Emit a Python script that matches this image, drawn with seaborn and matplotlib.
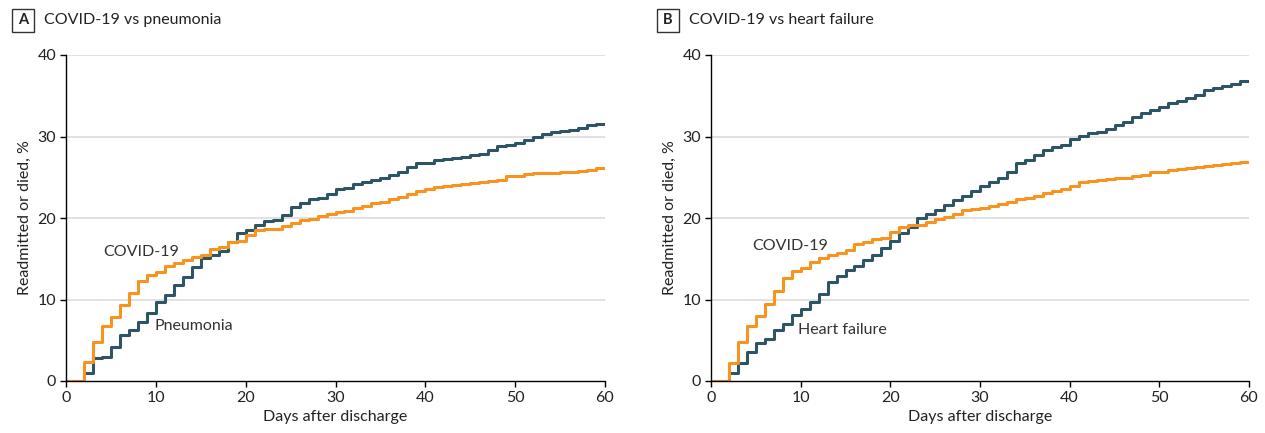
import matplotlib.pyplot as plt
import seaborn as sns
import pandas as pd
import numpy as np
from matplotlib.patches import Rectangle

days = list(range(61))

# Panel A: COVID-19 vs pneumonia (% readmitted or died)
covid_a = [0, 0, 2.3, 4.8, 6.7, 7.9, 9.3, 10.8, 12.3, 13.0,
           13.4, 14.1, 14.5, 14.9, 15.2, 15.5, 16.2, 16.5, 17.0, 17.2,
           17.9, 18.5, 18.6, 18.7, 19.0, 19.4, 19.7, 19.9, 20.3, 20.5,
           20.7, 20.9, 21.2, 21.5, 21.8, 22.0, 22.3, 22.6, 23.0, 23.3,
           23.6, 23.8, 23.95, 24.1, 24.2, 24.3, 24.4, 24.5, 24.7, 25.1,
           25.1, 25.35, 25.5, 25.5, 25.55, 25.7, 25.7, 25.8, 25.9, 26.1, 26.1]
pneumonia = [0, 0, 1.0, 2.8, 3.0, 4.2, 5.6, 6.3, 7.3, 8.4,
             9.7, 10.6, 11.8, 12.8, 14.0, 15.1, 15.5, 16.0, 17.0, 18.1,
             18.5, 19.2, 19.6, 19.8, 20.4, 21.3, 21.9, 22.3, 22.5, 22.9,
             23.5, 23.7, 24.2, 24.4, 24.7, 24.9, 25.3, 25.7, 26.3, 26.7,
             26.8, 27.1, 27.2, 27.4, 27.5, 27.7, 27.9, 28.4, 28.8, 28.9,
             29.2, 29.6, 29.9, 30.3, 30.6, 30.7, 30.8, 31.0, 31.4, 31.5, 31.5]

# Panel B: COVID-19 vs heart failure
covid_b = [0, 0, 2.25, 4.8, 6.8, 8.0, 9.45, 11.1, 12.6, 13.5,
           13.9, 14.55, 15.05, 15.45, 15.75, 16.1, 16.8, 17.0, 17.4, 17.6,
           18.3, 18.85, 19.1, 19.2, 19.55, 19.9, 20.1, 20.45, 21.0, 21.05,
           21.2, 21.5, 21.7, 21.95, 22.3, 22.5, 22.7, 23.1, 23.3, 23.6,
           23.9, 24.4, 24.6, 24.65, 24.75, 24.85, 24.95, 25.1, 25.3, 25.6,
           25.7, 25.9, 26.0, 26.1, 26.2, 26.4, 26.5, 26.6, 26.7, 26.9, 26.9]
heart_failure = [0, 0, 0.95, 2.2, 3.6, 4.7, 5.2, 6.3, 7.0, 8.1,
                 8.8, 9.7, 10.7, 12.2, 12.9, 13.6, 14.15, 14.8, 15.45, 16.3,
                 17.2, 18.2, 18.9, 19.95, 20.45, 21.0, 21.6, 22.2, 22.7, 23.35,
                 23.95, 24.45, 24.95, 25.7, 26.7, 27.1, 27.7, 28.4, 28.75, 29.0,
                 29.65, 30.05, 30.4, 30.6, 30.9, 31.4, 31.8, 32.35, 32.9, 33.3,
                 33.6, 34.15, 34.4, 34.7, 35.1, 35.7, 35.9, 36.2, 36.5, 36.85, 36.85]

ORANGE = '#F7931E'
BLUE = '#2D5565'

sns.set_theme(style="white")
plt.rcParams['font.family'] = ['Lato', 'DejaVu Sans']

fig = plt.figure(figsize=(12.65, 4.33), dpi=100)
ax_a = fig.add_axes([66/1265, 1 - 381/433, 539/1265, 326/433])
ax_b = fig.add_axes([711/1265, 1 - 381/433, 538/1265, 326/433])

panels = [
    (ax_a, 'A', 'COVID-19 vs pneumonia', covid_a, pneumonia, 'Pneumonia',
     (4.2, 15.8), (9.8, 6.7)),
    (ax_b, 'B', 'COVID-19 vs heart failure', covid_b, heart_failure, 'Heart failure',
     (4.6, 16.6), (9.7, 6.2)),
]

for ax, letter, title, covid, other, other_name, covid_pos, other_pos in panels:
    df = pd.DataFrame({
        'day': days * 2,
        'pct': other + covid,
        'group': [other_name] * len(days) + ['COVID-19'] * len(days),
    })
    for yv in [10, 20, 30, 40]:
        ax.axhline(yv, color='#DCDCDC', lw=1.2, zorder=0)
    sns.lineplot(data=df, x='day', y='pct', hue='group',
                 palette={other_name: BLUE, 'COVID-19': ORANGE},
                 drawstyle='steps-post', lw=2.2, legend=False, ax=ax,
                 estimator=None)
    ax.set_xlim(0, 60)
    ax.set_ylim(0, 40)
    ax.set_xticks(range(0, 61, 10))
    ax.set_yticks(range(0, 41, 10))
    for s in ['top', 'right']:
        ax.spines[s].set_visible(False)
    for s in ['left', 'bottom']:
        ax.spines[s].set_color('black')
        ax.spines[s].set_linewidth(1.0)
    ax.tick_params(axis='both', direction='out', length=4, width=1,
                   color='black', labelsize=11.5, labelcolor='#222222',
                   left=True, bottom=True, pad=3)
    ax.set_xlabel('Days after discharge', fontsize=11.5, color='#222222')
    ax.set_ylabel('Readmitted or died, %', fontsize=11.5, color='#222222')
    ax.text(covid_pos[0], covid_pos[1], 'COVID-19', fontsize=11.5,
            color='#333333', va='center', ha='left')
    ax.text(other_pos[0], other_pos[1], other_name, fontsize=11.5,
            color='#333333', va='center', ha='left')
    # panel letter box and title
    x0 = ax.get_position().x0 - 54/1265
    fig.text(x0 + 11/1265, 1 - 20/433, letter, fontsize=10.5, weight='bold',
             ha='center', va='center', color='#222222')
    fig.patches.append(Rectangle((x0, 1 - 32/433), 22/1265, 23/433,
                                 transform=fig.transFigure, fill=False,
                                 edgecolor='#333333', lw=1.0))
    fig.text(x0 + 32/1265, 1 - 20/433, title, fontsize=11.5,
             ha='left', va='center', color='#222222')

fig.savefig('out.png', dpi=100)
